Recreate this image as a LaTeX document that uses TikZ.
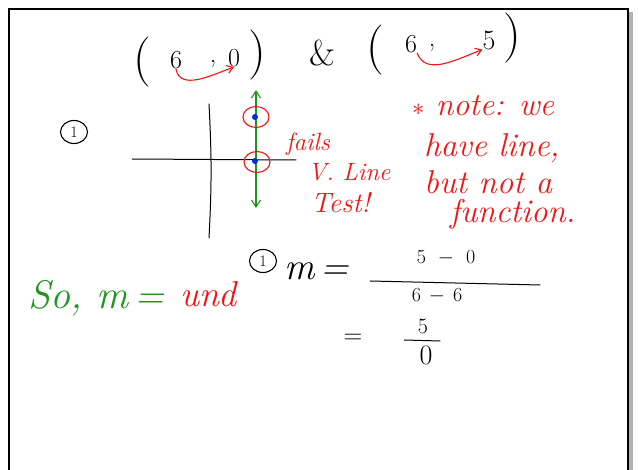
\documentclass[tikz,border=0pt]{standalone}
\usetikzlibrary{arrows.meta,shapes.geometric}
\definecolor{inkred}{RGB}{240,20,20}
\definecolor{inkgreen}{RGB}{30,150,30}
\definecolor{inkblue}{RGB}{0,40,230}
\begin{document}
\begin{tikzpicture}[x=1pt,y=-1pt,
  txt/.style={font=\fontsize{#1}{#1}\selectfont, inner sep=0pt},
  hand/.style={font=\fontsize{#1}{#1}\selectfont\itshape, inner sep=0pt},
  stroke/.style={line width=1.1pt, line cap=round},
  redtxt/.style={hand=#1, text=inkred},
  greentxt/.style={hand=#1, text=inkgreen},
  redarrow/.style={stroke, draw=inkred, -{Straight Barb[length=6pt,width=8pt]}},
  ring/.style={draw, ellipse, line width=1.1pt, inner sep=0pt, minimum width=27pt, minimum height=23pt},
  redring/.style={draw=inkred, ellipse, line width=1.1pt, minimum width=26pt, minimum height=21pt, inner sep=0pt},
  dot/.style={circle, fill=inkblue, inner sep=0pt, minimum size=6pt}]
\useasboundingbox (0,0) rectangle (638,470);
% frame
\fill[gray!60] (629,12) rectangle (633,470);
\draw[line width=1.6pt] (9,470) -- (9,9) -- (628,9) -- (628,470);

% ( 6 , 0 )  &  ( 6 , 5 )
\node[txt=50] (lp1) at (142,62) {(};
\node[txt=26] (six1) at (176,60) {6};
\node[txt=26] (com1) at (213,64) {,};
\node[txt=26] (zero1) at (234,58) {0};
\node[txt=50] (rp1) at (257,55) {)};
\node[txt=36] (amp) at (322,53) {\&};
\node[txt=50] (lp2) at (375,50) {(};
\node[txt=26] (six2) at (411,44) {6};
\node[txt=26] (com2) at (432,48) {,};
\node[txt=28] (five2) at (489,40) {5};
\node[txt=50] (rp2) at (512,38) {)};
\draw[redarrow] (six1.south) to[out=-80,in=200] (zero1.south);
\draw[redarrow] (six2.south east) to[out=-70,in=200] (five2.south west);

% circled 1
\node[ring, txt=16] (c1) at (74,132) {1};

% axes
\coordinate (xl) at (132,159);
\coordinate (xr) at (296,160);
\coordinate (yt) at (209,104);
\coordinate (yb) at (209,238);
\draw[stroke, line width=1pt] (xl) -- (xr);
\draw[stroke, line width=1pt] (yt) to[bend left=3] (yb);

% vertical line
\coordinate (gt) at (256,90);
\coordinate (gb) at (256,208);
\draw[stroke, draw=inkgreen, {Straight Barb[length=7pt,width=9pt]}-{Straight Barb[length=7pt,width=9pt]}] (gt) -- (gb);
\node[dot] (p1) at (255,117) {};
\node[dot] (p2) at (255,161) {};
\node[redring] (r1) at (256,117) {};
\node[redring] (r2) at (257,162) {};

% fails V. Line Test!
\node[redtxt=25, anchor=west] (fails) at (286,144) {fails};
\node[redtxt=25, anchor=west] (vline) at (308,172) {V. Line};
\node[redtxt=28, anchor=west] (test) at (311,203) {Test!};

% note
\node[redtxt=32, anchor=west] (n1) at (412,106) {$\ast$ note: we};
\node[redtxt=33, anchor=west] (n2) at (424,148) {have line,};
\node[redtxt=33, anchor=west] (n3) at (424,182) {but not a};
\node[redtxt=33, anchor=west] (n4) at (450,214) {function.};

% So, m = und
\node[greentxt=40, anchor=west] (so) at (28,298) {So, m\,=};
\node[redtxt=36, anchor=west] (und) at (180,294) {und};

% slope
\node[ring, txt=16] (c2) at (263,261) {1};
\node[hand=38, anchor=west] (m) at (284,271) {m\,=};
\node[txt=20] (num) at (446,258) {5\hspace{12pt}$-$\hspace{12pt}0};
\coordinate (fl) at (370,281);
\coordinate (fr) at (540,285);
\draw[stroke, line width=1pt] (fl) -- (fr);
\node[txt=20] (den) at (437,296) {6\hspace{8pt}$-$\hspace{8pt}6};
\node[txt=26] (eq) at (353,339) {=};
\node[txt=22] (five) at (423,326) {5};
\coordinate (gl) at (404,340);
\coordinate (gr) at (440,341);
\draw[stroke, line width=1pt] (gl) -- (gr);
\node[txt=28] (zero) at (426,355) {0};
\end{tikzpicture}
\end{document}
